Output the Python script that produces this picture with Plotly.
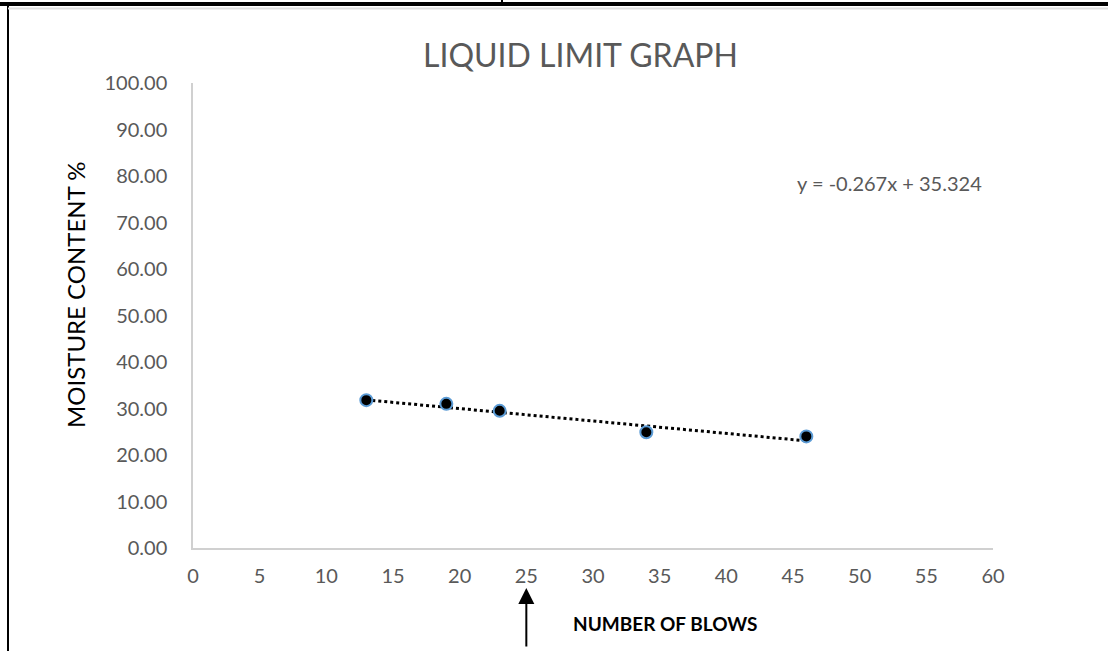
import plotly.graph_objects as go

# Data
blows = [13, 19, 23, 34, 46]
moisture = [31.8, 31.0, 29.5, 24.9, 24.0]
trend_slope = -0.267
trend_intercept = 35.324
x_ticks = list(range(0, 61, 5))
y_ticks = list(range(0, 101, 10))

trend_x = [min(blows), max(blows)]
trend_y = [trend_slope * v + trend_intercept for v in trend_x]

FONT = "Lato, 'Open Sans', sans-serif"
GRAY = "#595959"

fig = go.Figure()
fig.add_trace(go.Scatter(
    x=trend_x, y=trend_y, mode="lines",
    line=dict(color="black", width=3, dash="dot"),
    showlegend=False, hoverinfo="skip"))
fig.add_trace(go.Scatter(
    x=blows, y=moisture, mode="markers",
    marker=dict(color="black", size=12, line=dict(color="#5b9bd5", width=2)),
    showlegend=False))

W, H = 1108, 651
L, T = 193, 83
R = W - 993
B = H - 548
pw, ph = W - L - R, H - T - B


def px(x):
    return (x - L) / pw


def py(y):
    return (H - B - y) / ph


fig.update_layout(
    width=W, height=H,
    margin=dict(l=L, r=R, t=T, b=B),
    paper_bgcolor="white", plot_bgcolor="white",
    font=dict(family=FONT, color=GRAY),
    xaxis=dict(range=[0, 60], tickvals=x_ticks, showgrid=False, zeroline=False,
               showline=True, linecolor="#d0d0d0", linewidth=1.5,
               tickfont=dict(size=20, color=GRAY), ticklabelstandoff=9),
    yaxis=dict(range=[0, 100], tickvals=y_ticks, tickformat=".2f", showgrid=False,
               zeroline=False, showline=True, linecolor="#d0d0d0", linewidth=1.5,
               tickfont=dict(size=20, color=GRAY), ticklabelstandoff=20),
)

common = dict(xref="paper", yref="paper", showarrow=False, xanchor="center", yanchor="middle")
annotations = [
    dict(text="LIQUID LIMIT GRAPH", x=px(580), y=py(55),
         font=dict(size=32, color=GRAY, family=FONT), **common),
    dict(text="MOISTURE CONTENT %", x=px(75), y=py(295), textangle=-90,
         font=dict(size=24, color="black", family=FONT), **common),
    dict(text="<b>NUMBER OF BLOWS</b>", x=px(665), y=py(623),
         font=dict(size=19, color="black", family=FONT), **common),
    dict(text="y = -0.267x + 35.324", x=px(889), y=py(183),
         font=dict(size=20, color=GRAY, family=FONT), **common),
    dict(text="", x=25, y=py(588), xref="x", yref="paper", ax=0, ay=60,
         showarrow=True, arrowhead=2, arrowsize=1.6, arrowwidth=2, arrowcolor="black",
         standoff=0),
]
fig.update_layout(annotations=annotations)

shapes = [
    dict(type="line", xref="paper", yref="paper", x0=px(8), x1=px(8), y0=py(2), y1=py(660),
         line=dict(color="black", width=2)),
    dict(type="line", xref="paper", yref="paper", x0=px(0), x1=px(1120), y0=py(4), y1=py(4),
         line=dict(color="black", width=4)),
    dict(type="line", xref="paper", yref="paper", x0=px(8), x1=px(1120), y0=py(8.5), y1=py(8.5),
         line=dict(color="#dcdcdc", width=2)),
    dict(type="line", xref="paper", yref="paper", x0=px(502), x1=px(502), y0=py(0), y1=py(6),
         line=dict(color="black", width=2)),
]
fig.update_layout(shapes=shapes)

fig.write_html("out.html", config={"displayModeBar": False},
               post_script="document.body.style.margin='0';document.body.style.overflow='hidden';")
